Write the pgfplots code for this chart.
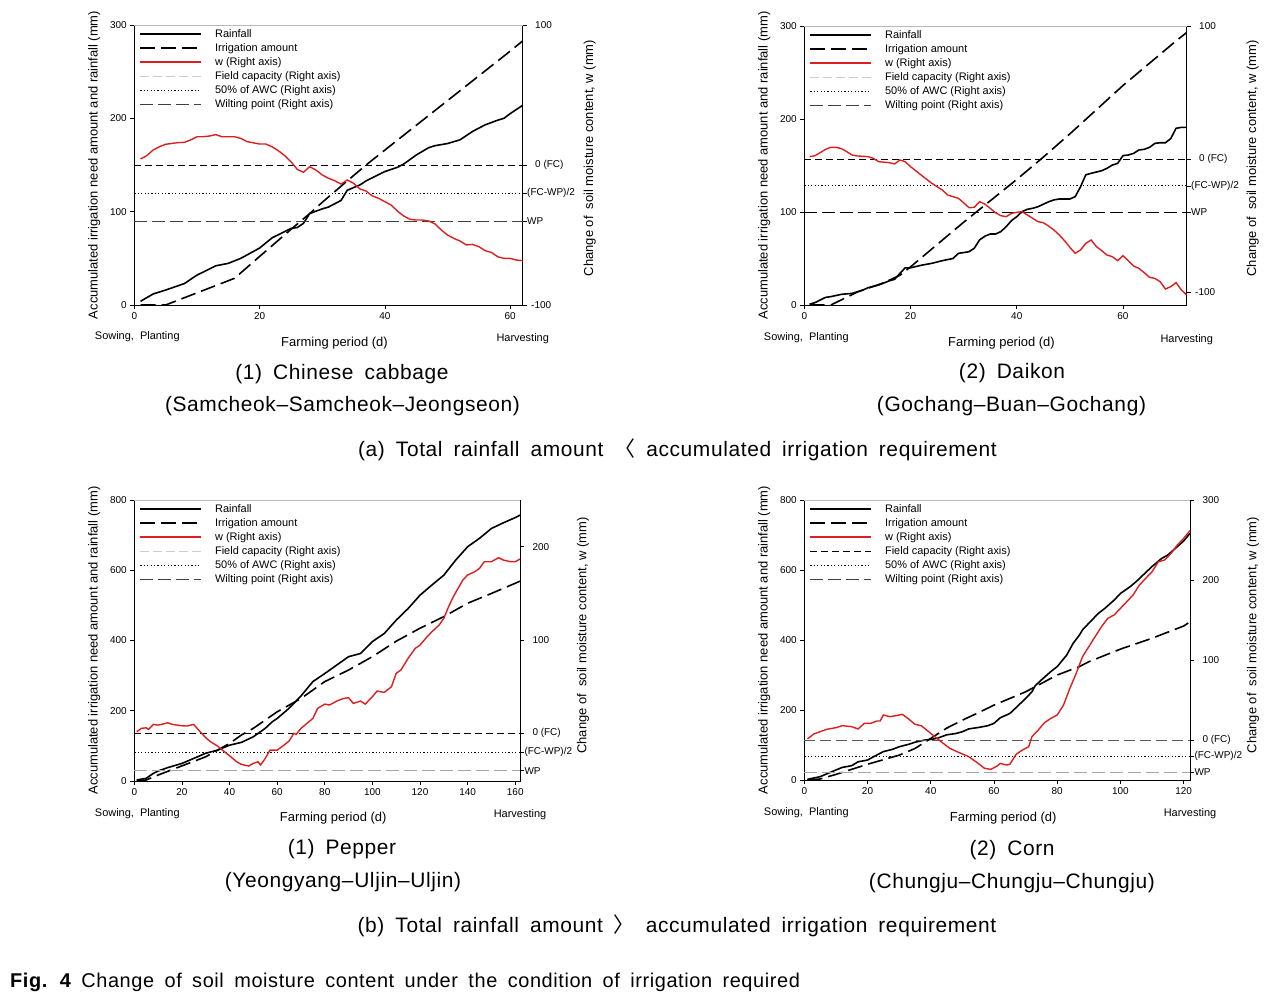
\documentclass[border=0pt]{standalone}
\usepackage{pgfplots}
\pgfplotsset{compat=1.18}
\usepackage{pgfplotstable}
\usepackage{fontspec}
\setmainfont{Liberation Sans}
\newfontfamily\cjk{Noto Sans CJK KR}
\newfontfamily\titlefont[LetterSpace=3,WordSpace=1.7]{Liberation Sans}
\definecolor{wred}{RGB}{220,32,32}

% ---------------- Panel 1: Chinese cabbage ----------------
\pgfplotstableread{
x y
1 4
3 11.8
5 16
8 23
10 32
12 38.6
13 42
15 44.6
17 50
20 61
22 72
24 78.6
25 82
26 83
27 87.5
28 98
30 103
31 105
33 112
34 123
36 128.6
37 133
40 143
42 147.5
43 151
45 160.7
47 168.6
48 170.7
50 173
52 177
54 186
56 193
58 198
59 200
60 205
62 214
}\rainA
\pgfplotstableread{
x y
1 0
5 0
10 13
16 28.6
20 52
25 81
28 98
30 110
34 133
37 150
40 166
45 192.5
50 219
55 245.5
60 272
62 283
}\irrA
\pgfplotstableread{
x y
1 4.3
2 6.7
3 10.7
4 13
5 14.8
7 16
8 16.2
9 17.9
10 20.2
11 20.2
12 20.7
13 21.7
14 20.2
16 20.2
17 19
18 16.7
20 15
21 15
22 13
23 10.2
24 6.7
25 2.4
26 -3.1
27 -5.2
28 -1.2
29 -3.6
30 -7.1
31 -9.5
32 -11.2
33 -13.6
34 -10.7
35 -13.1
36 -17.1
37 -18.6
38 -22.1
39 -23.8
40 -26.2
41 -28.6
42 -32.9
43 -36.4
44 -38.8
45 -39.3
46 -39.3
47 -40
48 -42.1
49 -46.4
50 -50
51 -52.4
52 -54.3
53 -57.1
54 -56.7
55 -58.3
56 -61.2
57 -62.4
58 -65.5
59 -66.7
60 -66.7
61 -67.9
62 -68.3
}\wA

% ---------------- Panel 2: Daikon ----------------
\pgfplotstableread{
x y
1 1
2 2.5
3 5.4
4 8.2
5 9
7 11.5
9 12.5
11 16
12 18.6
14 21.5
16 26
17 27.6
18 34
19 40
20 40
22 42.7
24 44.8
26 47.7
28 50
29 55.5
31 57.3
32 61
33 70
34 74
35 76.3
36 76.3
37 78.9
38 84.2
39 90.7
40 95
41 100.4
42 102.9
43 104
44 105.7
46 111
47 113
48 114
50 114
51 116.5
52 127
53 140
54 141.6
55 143
56 144.4
57 147
58 150.5
59 152.3
60 160.6
61 161.3
62 163
63 166.7
64 167.4
65 169.5
66 173.8
67 174.5
68 174.5
69 179
70 190
71 191
72 191
}\rainB
\pgfplotstableread{
x y
1 0
5 0
10 14
15 24
18 32
20 41
25 65
30 89
35 112
40 135
45 159
50 184
55 210
60 236
65 260
70 284
72 293
}\irrB
\pgfplotstableread{
x y
1 1.9
2 2.6
3 4.9
4 7.4
5 8.9
6 8.9
7 7.9
8 5.6
9 3.1
10 2.4
12 1.9
13 0.6
14 -1.9
16 -2.6
17 -3.6
18 -0.6
19 -1.9
20 -5.6
22 -11.9
24 -18.1
26 -23.2
27 -26.9
29 -29.4
30 -32.7
31 -36.4
32 -36.2
33 -31.9
34 -33.7
35 -36.9
36 -40.2
37 -42.4
38 -43.2
39 -40.7
40 -39.9
41 -39.4
42 -41.9
43 -44.4
44 -46.9
45 -47.7
46 -50.2
47 -53.2
48 -56.9
49 -61.2
50 -66.2
51 -70.7
52 -68.2
53 -63.2
54 -60.7
55 -65.7
56 -68.7
57 -72
58 -73.2
59 -76.2
60 -72.5
61 -76.2
62 -80.2
63 -82
64 -85.2
65 -88.7
66 -89.5
67 -92
68 -97.5
69 -95.7
70 -92.7
71 -98.2
72 -102
}\wB

% ---------------- Panel 3: Pepper ----------------
\pgfplotstableread{
x y
1 3
5 7.6
8 21.8
10 28.5
14 38
20 50
25 64.5
30 79
35 88
40 102
45 110
50 126
55 150
58 169
60 178
65 207
70 242
75 283
80 306
85 330
90 354
95 363
100 397
105 420
110 458
115 491
120 529
125 558
130 586
135 629
140 667
145 691
150 719
155 735
160 750
162 757
}\rainC
\pgfplotstableread{
x y
1 0
5 3
10 17
20 43
30 69
40 107
45 131
50 150
60 197
70 235
80 283
90 316
100 354
110 398
120 435
130 468
140 506
150 534
160 563
162 569
}\irrC
\pgfplotstableread{
x y
1 1.8
3 5.4
5 6
6 4.3
8 9.6
10 8.9
12 10
14 11.4
16 9.6
18 8.9
20 8.2
22 7.9
25 9.6
27 3.6
30 -4.6
32 -8.9
35 -13.6
37 -17.9
40 -23.9
43 -30.4
45 -33.2
48 -35
50 -32.1
52 -30.4
53 -33.9
55 -26.8
57 -17.9
60 -17.9
62 -14.3
65 -8.2
67 0
68 -1.1
70 5.4
72 9.6
75 16
77 26.8
80 31.4
82 30.4
85 34.6
88 37.5
90 38.2
92 32.1
95 34.6
97 31.4
100 39.3
102 45.4
105 43.9
108 50
110 64.3
112 67.9
115 80.4
118 91.1
120 94.6
123 103.6
125 108.9
128 116
130 123.2
132 135.7
134 146.4
136 155.4
138 164.3
140 169.6
143 173.2
145 176.8
147 183.9
150 183.9
153 188.2
155 185.7
158 183.9
160 183.9
162 186.8
}\wC

% ---------------- Panel 4: Corn ----------------
\pgfplotstableread{
x y
1 2
5 9.5
8 21
10 28.6
12 36
15 41
17 52
20 57
22 67
25 81
28 88
30 95
33 102
35 108
38 114
40 116
42 119
45 129
48 133
50 138
52 146
55 150
58 155
60 162
62 178
65 190
67 207
70 233
72 252
73 269
75 286
78 310
80 324
83 357
85 390
87 414
88 429
90 448
93 476
95 490
98 514
100 533
103 552
105 567
108 593
110 610
113 633
115 643
118 667
120 683
122 705
}\rainD
\pgfplotstableread{
x y
1 0
5 3
10 16
20 45
30 71
35 90
40 119
45 148
50 171
55 192
60 214
70 252
80 300
87 324
90 338
100 374
110 405
120 440
122 452
}\irrD
\pgfplotstableread{
x y
1 1.3
3 7.5
5 10.4
7 13.3
10 15.4
12 17.9
15 16.7
17 13.8
19 20.8
21 20.8
23 23.8
24 23.8
25 31.3
27 29.2
29 30.4
31 32.1
33 26.3
35 19.6
37 17.9
40 8.3
43 -1.3
46 -10.4
49 -15.8
52 -20.8
55 -29.2
57 -35.4
59 -36.7
61 -32.5
62 -29.2
64 -31.3
65 -30.4
67 -17.9
69 -12.5
71 -8.3
72 4.2
74 12.5
76 21.7
78 27.1
80 31.3
82 43.8
84 64.6
86 83.3
88 104.2
90 116.7
92 129.2
94 141.7
96 152.1
98 156.3
100 164.6
102 172.9
104 181.3
106 193.8
108 202.1
110 210.4
112 222.9
114 225
116 233.3
118 243.8
120 252.1
122 261.7
}\wD

\tikzset{
 rainst/.style={black, line width=1.6bp, solid},
 irrst/.style={black, line width=1.6bp, dash pattern=on 15bp off 6bp},
 wst/.style={wred, line width=1.4bp, solid},
 fclg/.style={gray!40, line width=0.9bp, dash pattern=on 9bp off 4bp},
 fcblk/.style={black, line width=0.9bp, dash pattern=on 7bp off 4bp},
 awcst/.style={black, line width=1bp, dash pattern=on 1.2bp off 2.2bp},
 wpst/.style={black!75, line width=0.9bp, dash pattern=on 13bp off 5bp},
 lbl/.style={font=\fontsize{11}{13}\selectfont},
 ttl/.style={font=\titlefont\fontsize{21}{25}\selectfont},
}

\newcommand\mylegend[1]{%
 \addlegendimage{rainst}\addlegendentry{Rainfall}
 \addlegendimage{irrst}\addlegendentry{Irrigation amount}
 \addlegendimage{wst}\addlegendentry{w (Right axis)}
 \addlegendimage{#1}\addlegendentry{Field capacity (Right axis)}
 \addlegendimage{awcst}\addlegendentry{50\% of AWC (Right axis)}
 \addlegendimage{wpst}\addlegendentry{Wilting point (Right axis)}
}

\pgfplotsset{
 base/.style={scale only axis, clip=false, anchor=south west, tick align=outside,
   major tick length=4bp, tick style={black, line width=0.6bp},
   ticklabel style={font=\fontsize{10}{12}\selectfont},
   /pgf/number format/assume math mode=true,
   axis line style={-, line width=0.7bp},
   label style={font=\fontsize{13}{15}\selectfont}},
 leftax/.style={base, xtick pos=left, ytick pos=left,
   xlabel={Farming period (d)},
   ylabel={Accumulated irrigation need amount and rainfall (mm)},
   ylabel style={at={(axis description cs:0,0.5)}, anchor=center, yshift=40bp},
   xlabel style={at={(axis description cs:0.5,0)}, anchor=center, yshift=-38bp, xshift=6bp},
   legend cell align=left,
   legend style={at={(0,1)}, anchor=north west, xshift=5bp, yshift=-3bp,
     draw=none, fill=none, inner sep=0pt, font=\fontsize{11}{13}\selectfont,
     row sep=2.6bp,
     nodes={inner sep=1bp}, /tikz/every odd column/.append style={column sep=12bp}},
   legend image code/.code={\draw[##1] (0bp,0bp) -- (61bp,0bp);}},
 rightax/.style={base, axis x line=none, axis y line*=right,
   ylabel={Change of\ \ soil moisture content, w (mm)},
   ylabel style={at={(axis description cs:1,0.5)}, anchor=center},
   yticklabel style={xshift=-3bp}},
}

\begin{document}
\begin{tikzpicture}
\useasboundingbox (0,0) rectangle (1286bp,-998bp);

% ===== Panel 1 =====
\begin{axis}[leftax, at={(134.3bp,-305bp)}, width=388.4bp, height=280bp,
  xmin=0, xmax=62, ymin=0, ymax=300, xtick={0,20,40,60}, ytick={0,100,200,300}]
\mylegend{fclg}
\addplot[rainst, forget plot] table {\rainA};
\addplot[irrst, forget plot] table {\irrA};
\node[lbl, yshift=-32bp, xshift=3bp] at (axis description cs:0,0) {Sowing,\ \ Planting};
\node[lbl, yshift=-34bp] at (axis description cs:1,0) {Harvesting};
\end{axis}
\begin{axis}[rightax, at={(134.3bp,-305bp)}, width=388.4bp, height=280bp,
  xmin=0, xmax=62, ymin=-100, ymax=100, ytick={-100,-40,-20,0,100},
  yticklabels={\hspace{4bp}-100,WP,(FC-WP)/2,\hspace{8bp}0 (FC),\hspace{8bp}100},
  ylabel style={yshift=-67bp, xshift=7bp}]
\addplot[fcblk, forget plot] coordinates {(0,0) (62,0)};
\addplot[awcst, forget plot] coordinates {(0,-20) (62,-20)};
\addplot[wpst, forget plot] coordinates {(0,-40) (62,-40)};
\addplot[wst, forget plot] table {\wA};
\draw[gray!55, line width=0.8bp] (axis description cs:0,1) -- (axis description cs:1,1);
\end{axis}

% ===== Panel 2 =====
\begin{axis}[leftax, at={(804.3bp,-305bp)}, width=382.4bp, height=279bp,
  xmin=0, xmax=72, ymin=0, ymax=300, xtick={0,20,40,60}, ytick={0,100,200,300}]
\mylegend{fclg}
\addplot[rainst, forget plot] table {\rainB};
\addplot[irrst, forget plot] table {\irrB};
\node[lbl, yshift=-33bp, xshift=2bp] at (axis description cs:0,0) {Sowing,\ \ Planting};
\node[lbl, yshift=-35bp] at (axis description cs:1,0) {Harvesting};
\end{axis}
\begin{axis}[rightax, at={(804.3bp,-305bp)}, width=382.4bp, height=279bp,
  xmin=0, xmax=72, ymin=-109.5, ymax=100, ytick={-100,-40,-20,0,100},
  yticklabels={\hspace{4bp}-100,WP,(FC-WP)/2,\hspace{8bp}0 (FC),\hspace{8bp}100},
  ylabel style={yshift=-66bp, xshift=7bp}]
\addplot[fcblk, forget plot] coordinates {(0,0) (72,0)};
\addplot[awcst, forget plot] coordinates {(0,-20) (72,-20)};
\addplot[wpst, black, forget plot] coordinates {(0,-40) (72,-40)};
\addplot[wst, forget plot] table {\wB};
\draw[gray!55, line width=0.8bp] (axis description cs:0,1) -- (axis description cs:1,1);
\end{axis}

% ===== Panel 3 =====
\begin{axis}[leftax, at={(134.3bp,-781bp)}, width=385.7bp, height=281bp,
  xmin=0, xmax=162, ymin=0, ymax=800, xtick={0,20,...,160}, ytick={0,200,400,600,800},
  xlabel style={yshift=1bp}]
\mylegend{fclg}
\addplot[rainst, forget plot] table {\rainC};
\addplot[irrst, forget plot] table {\irrC};
\node[lbl, yshift=-33bp, xshift=3bp] at (axis description cs:0,0) {Sowing,\ \ Planting};
\node[lbl, yshift=-34bp] at (axis description cs:1,0) {Harvesting};
\end{axis}
\begin{axis}[rightax, at={(134.3bp,-781bp)}, width=385.7bp, height=281bp,
  xmin=0, xmax=162, ymin=-51, ymax=250, ytick={-40,-20,0,100,200},
  yticklabels={WP,(FC-WP)/2,\hspace{8bp}0 (FC),\hspace{8bp}100,\hspace{8bp}200},
  ylabel style={yshift=-63bp, xshift=5bp}]
\addplot[fcblk, forget plot] coordinates {(0,0) (162,0)};
\addplot[awcst, forget plot] coordinates {(0,-20) (162,-20)};
\addplot[wpst, gray!70, forget plot] coordinates {(0,-40) (162,-40)};
\addplot[wst, forget plot] table {\wC};
\draw[gray!55, line width=0.8bp] (axis description cs:0,1) -- (axis description cs:1,1);
\end{axis}

% ===== Panel 4 =====
\begin{axis}[leftax, at={(804.3bp,-780bp)}, width=385.7bp, height=280bp,
  xmin=0, xmax=122, ymin=0, ymax=800, xtick={0,20,...,120}, ytick={0,200,400,600,800}]
\mylegend{fcblk}
\addplot[rainst, forget plot] table {\rainD};
\addplot[irrst, forget plot] table {\irrD};
\node[lbl, yshift=-33bp, xshift=2bp] at (axis description cs:0,0) {Sowing,\ \ Planting};
\node[lbl, yshift=-34bp] at (axis description cs:1,0) {Harvesting};
\end{axis}
\begin{axis}[rightax, at={(804.3bp,-780bp)}, width=385.7bp, height=280bp,
  xmin=0, xmax=122, ymin=-50, ymax=300, ytick={-40,-20,0,100,200,300},
  yticklabels={WP,(FC-WP)/2,\hspace{8bp}0 (FC),\hspace{8bp}100,\hspace{8bp}200,\hspace{8bp}300},
  ylabel style={yshift=-63bp, xshift=5bp}]
\addplot[fcblk, gray!70!black, dash pattern=on 11bp off 5bp, forget plot] coordinates {(0,0) (122,0)};
\addplot[awcst, forget plot] coordinates {(0,-20) (122,-20)};
\addplot[wpst, gray!70, forget plot] coordinates {(0,-40) (122,-40)};
\addplot[wst, forget plot] table {\wD};
\draw[gray!55, line width=0.8bp] (axis description cs:0,1) -- (axis description cs:1,1);
\end{axis}

% ===== Titles =====
\node[ttl] at (342bp,-374bp) {(1) Chinese cabbage};
\node[ttl] at (342.5bp,-406bp) {(Samcheok–Samcheok–Jeongseon)};
\node[ttl] at (1012bp,-373bp) {(2) Daikon};
\node[ttl] at (1011.5bp,-406bp) {(Gochang–Buan–Gochang)};
\node[ttl] at (677.5bp,-450bp) {(a) Total rainfall amount {\cjk 〈} accumulated irrigation requirement};
\node[ttl] at (342bp,-849bp) {(1) Pepper};
\node[ttl] at (343bp,-882bp) {(Yeongyang–Uljin–Uljin)};
\node[ttl] at (1012bp,-850bp) {(2) Corn};
\node[ttl] at (1012bp,-883bp) {(Chungju–Chungju–Chungju)};
\node[ttl] at (677bp,-926bp) {(b) Total rainfall amount {\cjk 〉} accumulated irrigation requirement};
\node[anchor=west, font=\titlefont\fontsize{20}{24}\selectfont, inner sep=0pt] at (10bp,-982bp)
  {{\bfseries Fig. 4} Change of soil moisture content under the condition of irrigation required};
\end{tikzpicture}
\end{document}
